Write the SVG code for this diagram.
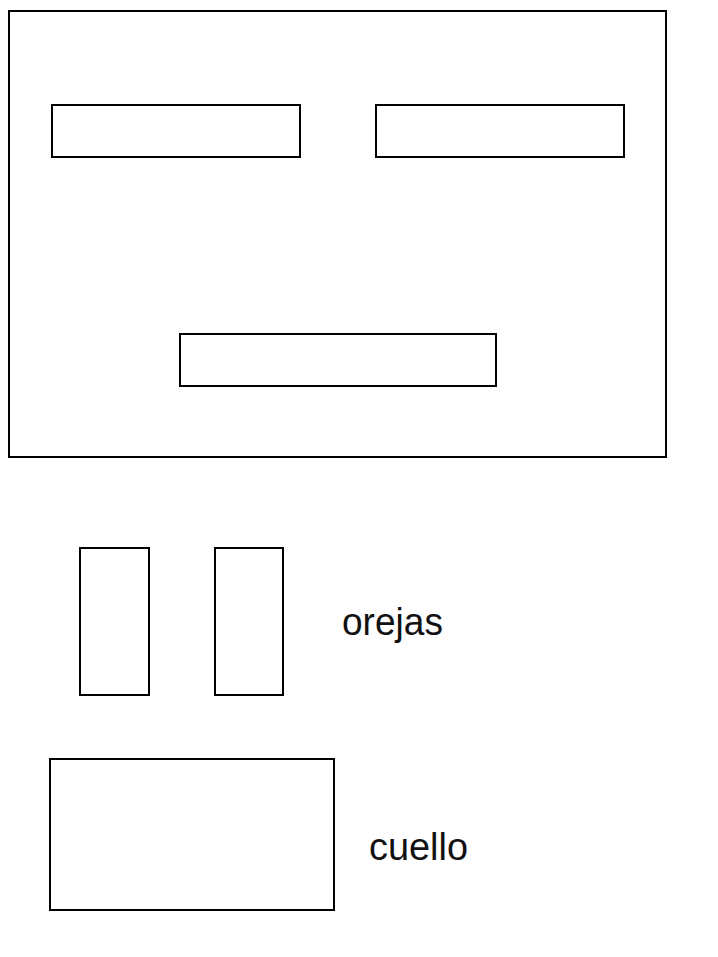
<svg xmlns="http://www.w3.org/2000/svg" width="718" height="957" viewBox="0 0 718 957">
<style>
.b{fill:none;stroke:#000;stroke-width:2}
.t{font-family:"Liberation Sans",Arial,sans-serif;font-size:38px;fill:#111}
</style>
<rect width="718" height="957" fill="#fff"/>
<g id="cara"><rect class="b" x="9" y="11" width="657" height="446"/></g>
<g id="ojo-izq"><rect class="b" x="52" y="105" width="248" height="52"/></g>
<g id="ojo-der"><rect class="b" x="376" y="105" width="248" height="52"/></g>
<g id="boca"><rect class="b" x="180" y="334" width="316" height="52"/></g>
<g id="oreja-1"><rect class="b" x="80" y="548" width="69" height="147"/></g>
<g id="oreja-2"><rect class="b" x="215" y="548" width="68" height="147"/></g>
<g id="orejas-label"><text class="t" x="342" y="635" textLength="101" lengthAdjust="spacingAndGlyphs">orejas</text></g>
<g id="cuello"><rect class="b" x="50" y="759" width="284" height="151"/></g>
<g id="cuello-label"><text class="t" x="369" y="860" textLength="99" lengthAdjust="spacingAndGlyphs">cuello</text></g>
<g id="connectors"></g>
</svg>
